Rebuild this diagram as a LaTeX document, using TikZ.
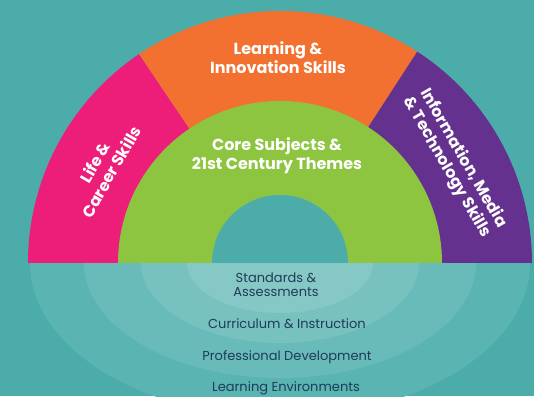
\documentclass[tikz,border=0pt]{standalone}
\usepackage{fontspec}
\setmainfont{Poppins}
\definecolor{bg}{HTML}{4BACAA}
\definecolor{bandA}{HTML}{5AB4B2}
\definecolor{bandB}{HTML}{68BBB9}
\definecolor{bandC}{HTML}{77C2BF}
\definecolor{bandD}{HTML}{86C8C5}
\definecolor{pinkc}{HTML}{ED1E79}
\definecolor{orangec}{HTML}{F37130}
\definecolor{purplec}{HTML}{65318E}
\definecolor{greenc}{HTML}{8DC540}
\definecolor{navy}{HTML}{1F3B57}
\tikzset{
  white label/.style={text=white, font=\fontsize{16}{19}\selectfont\bfseries, align=center, inner sep=0pt},
  lower label/.style={text=navy, font=\fontsize{13}{14}\selectfont, align=center, inner sep=0pt}
}
\begin{document}
\begin{tikzpicture}[x=1pt,y=1pt]
\useasboundingbox (0,0) rectangle (534,396);
\clip (0,0) rectangle (534,396);
\fill[bg] (0,0) rectangle (534,396);
\coordinate (C) at (280,133);
% upper sectors
\fill[pinkc] (C) -- ++(180:252) arc[start angle=180,end angle=124,radius=252] -- cycle;
\fill[orangec] (C) -- ++(124:252) arc[start angle=124,end angle=57,radius=252] -- cycle;
\fill[purplec] (C) -- ++(57:252) arc[start angle=57,end angle=0,radius=252] -- cycle;
\fill[greenc] (C) -- ++(180:162) arc[start angle=180,end angle=0,radius=162] -- cycle;
\fill[bg] (C) -- ++(180:68) arc[start angle=180,end angle=0,radius=68] -- cycle;
% lower bands
\fill[bandA] (C) -- ++(180:250) arc[start angle=180,end angle=360,x radius=250,y radius=154] -- cycle;
\fill[bandB] (C) -- ++(180:196) arc[start angle=180,end angle=360,x radius=196,y radius=115] -- cycle;
\fill[bandC] (C) -- ++(180:139) arc[start angle=180,end angle=360,x radius=139,y radius=80] -- cycle;
\fill[bandD] (C) -- ++(180:93) arc[start angle=180,end angle=360,x radius=93,y radius=50] -- cycle;
% labels
\node[white label] (lis) at (278,338) {Learning \&\\Innovation Skills};
\node[white label] (core) at (277,240) {Core Subjects \&\\21st Century Themes};
\node[white label, rotate=60] (life) at (103,229) {Life \&\\Career Skills};
\node[white label, rotate=-60] (imt) at (455,233) {Information, Media\\\& Technology Skills};
\node[lower label] (sa) at (276,111) {Standards \&\\Assessments};
\node[lower label] (ci) at (287,72) {Curriculum \& Instruction};
\node[lower label] (pd) at (287,39) {Professional Development};
\node[lower label] (le) at (286,8) {Learning Environments};
\end{tikzpicture}
\end{document}
